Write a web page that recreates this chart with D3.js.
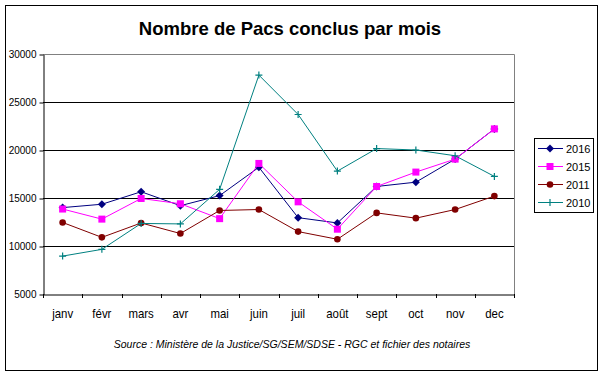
<!DOCTYPE html>
<html>
<head>
<meta charset="utf-8">
<script src="https://cdn.jsdelivr.net/npm/d3@7"></script>
<style>
  body { margin: 0; background: #fff; }
  svg { display: block; font-family: "Liberation Sans", Arial, sans-serif; }
</style>
</head>
<body>
<div id="chart"></div>
<script>
// data
const months = ['janv', 'févr', 'mars', 'avr', 'mai', 'juin', 'juil', 'août', 'sept', 'oct', 'nov', 'dec'];
const pacs2016 = [14000, 14350, 15650, 14200, 15250, 18200, 12950, 12400, 16200, 16650, 19050, 22200];
const pacs2015 = [13850, 12800, 14950, 14400, 12850, 18600, 14600, 11750, 16200, 17700, 19050, 22200];
const pacs2011 = [12450, 10900, 12400, 11300, 13700, 13800, 11500, 10700, 13450, 12900, 13800, 15200];
const pacs2010 = [8950, 9650, 12350, 12300, 15900, 27800, 23700, 17800, 20150, 20000, 19400, 17250];
const yTicks = [5000, 10000, 15000, 20000, 25000, 30000];

const series = [
  { name: '2016', values: pacs2016, color: '#000080', marker: 'diamond' },
  { name: '2015', values: pacs2015, color: '#ff00ff', marker: 'square' },
  { name: '2011', values: pacs2011, color: '#800000', marker: 'circle' },
  { name: '2010', values: pacs2010, color: '#008080', marker: 'plus' }
];

const width = 605, height = 378;
const plot = { left: 43, right: 514, top: 54, bottom: 294 };

const svg = d3.select('#chart').append('svg')
  .attr('width', width)
  .attr('height', height);

// outer frame
svg.append('rect')
  .attr('x', 5.5).attr('y', 5.5)
  .attr('width', 592).attr('height', 365)
  .attr('fill', '#fff')
  .attr('stroke', '#000');

svg.append('text')
  .attr('x', 290).attr('y', 35)
  .attr('text-anchor', 'middle')
  .attr('font-size', 18.5)
  .attr('font-weight', 'bold')
  .text('Nombre de Pacs conclus par mois');

const x = d3.scaleBand().domain(months).range([plot.left, plot.right]);
const y = d3.scaleLinear().domain([5000, 30000]).range([plot.bottom, plot.top]);

// gray border top/right of plot area
svg.append('path')
  .attr('d', `M${plot.left},${plot.top + 0.5}H${plot.right + 0.5}V${plot.bottom}`)
  .attr('fill', 'none')
  .attr('stroke', '#808080');

// gridlines
svg.append('g')
  .selectAll('line')
  .data(yTicks.filter(d => d > 5000 && d < 30000))
  .join('line')
  .attr('x1', plot.left).attr('x2', plot.right)
  .attr('y1', d => Math.round(y(d)) + 0.5)
  .attr('y2', d => Math.round(y(d)) + 0.5)
  .attr('stroke', '#000');

// y axis
const yAxis = svg.append('g')
  .attr('transform', `translate(${plot.left + 0.5},0.5)`)
  .call(d3.axisLeft(y).tickValues(yTicks).tickFormat(d3.format('d'))
    .tickSize(4).tickPadding(3).tickSizeOuter(0));
yAxis.select('.domain').attr('stroke', '#000');
yAxis.selectAll('text')
  .attr('font-size', 10)
  .attr('font-family', '"Liberation Sans", Arial, sans-serif')
  .attr('fill', '#000');

// x axis
const xAxis = svg.append('g')
  .attr('transform', `translate(0,${plot.bottom + 0.5})`)
  .call(d3.axisBottom(x).tickSize(0).tickPadding(14.5).tickSizeOuter(0));
xAxis.select('.domain').attr('stroke', '#000');
xAxis.selectAll('text')
  .attr('font-size', 13)
  .attr('font-family', '"Liberation Sans", Arial, sans-serif')
  .attr('transform', 'scale(0.88,1)')
  .attr('fill', '#000');

// tick marks between categories
svg.append('g')
  .selectAll('line')
  .data(months.map(m => x(m)).concat([plot.right]))
  .join('line')
  .attr('x1', d => Math.round(d) + 0.5).attr('x2', d => Math.round(d) + 0.5)
  .attr('y1', plot.bottom).attr('y2', plot.bottom + 4)
  .attr('stroke', '#000');

const cx = m => x(m) + x.bandwidth() / 2;

function drawMarker(g, type, color) {
  if (type === 'diamond') {
    g.append('path').attr('d', 'M0,-4L4,0L0,4L-4,0Z').attr('fill', color);
  } else if (type === 'square') {
    g.append('rect').attr('x', -3.5).attr('y', -3.5).attr('width', 7).attr('height', 7).attr('fill', color);
  } else if (type === 'circle') {
    g.append('circle').attr('r', 3.3).attr('fill', color);
  } else {
    g.append('path').attr('d', 'M-3.5,0H3.5M0,-3.5V3.5').attr('stroke', color).attr('stroke-width', 1.2);
  }
}

const line = d3.line()
  .x((d, i) => cx(months[i]))
  .y(d => y(d));

series.forEach(s => {
  const g = svg.append('g');
  g.append('path')
    .datum(s.values)
    .attr('d', line)
    .attr('fill', 'none')
    .attr('stroke', s.color)
    .attr('stroke-width', 1);
  s.values.forEach((v, i) => {
    const mg = g.append('g').attr('transform', `translate(${cx(months[i])},${y(v)})`);
    drawMarker(mg, s.marker, s.color);
  });
});

// legend
const legend = svg.append('g');
legend.append('rect')
  .attr('x', 534.5).attr('y', 138.5)
  .attr('width', 59).attr('height', 74)
  .attr('fill', '#fff')
  .attr('stroke', '#000');

series.forEach((s, i) => {
  const ly = 148 + i * 18;
  const row = legend.append('g').attr('transform', `translate(0,${ly})`);
  row.append('line')
    .attr('x1', 538).attr('x2', 563)
    .attr('y1', 0.5).attr('y2', 0.5)
    .attr('stroke', s.color);
  drawMarker(row.append('g').attr('transform', 'translate(550,0.5)'), s.marker, s.color);
  row.append('text')
    .attr('x', 566).attr('y', 4.5)
    .attr('font-size', 11)
    .text(s.name);
});

svg.append('text')
  .attr('x', 292).attr('y', 348)
  .attr('text-anchor', 'middle')
  .attr('font-size', 10.5)
  .attr('font-style', 'italic')
  .text('Source : Ministère de la Justice/SG/SEM/SDSE - RGC et fichier des notaires');
</script>
</body>
</html>
